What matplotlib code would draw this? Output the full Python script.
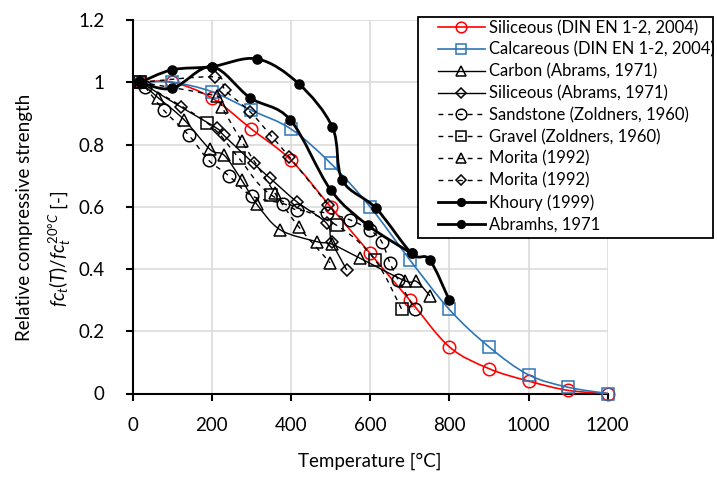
import numpy as np
import matplotlib
matplotlib.use("Agg")
import matplotlib.pyplot as plt
from matplotlib.path import Path
from matplotlib.patches import PathPatch, Rectangle
from matplotlib.lines import Line2D

plt.rcParams['font.family'] = ['Lato', 'DejaVu Sans']
plt.rcParams['mathtext.fontset'] = 'custom'
plt.rcParams['mathtext.rm'] = 'Lato'
plt.rcParams['mathtext.it'] = 'Lato:italic'

# --- data ---
temp_din = [20, 100, 200, 300, 400, 500, 600, 700, 800, 900, 1000, 1100, 1200]
siliceous_din = [1.0, 1.0, 0.95, 0.85, 0.75, 0.60, 0.45, 0.30, 0.15, 0.08, 0.04, 0.01, 0.0]
calcareous_din = [1.0, 1.0, 0.97, 0.91, 0.85, 0.74, 0.60, 0.43, 0.27, 0.15, 0.06, 0.02, 0.0]

temp_carbon = [20, 65, 130, 196, 232, 276, 314, 373, 465, 503, 574, 688, 717, 751]
carbon_abrams = [1.0, 0.95, 0.88, 0.784, 0.765, 0.685, 0.608, 0.526, 0.488, 0.48, 0.435, 0.362, 0.36, 0.314]

temp_sil_abrams = [20, 123, 213, 230, 306, 348, 415, 490, 503, 541]
siliceous_abrams = [1.0, 0.92, 0.852, 0.83, 0.739, 0.691, 0.616, 0.547, 0.488, 0.397]

temp_sandstone = [32, 79, 142, 192, 243, 301, 381, 415, 490, 549, 599, 629, 650, 671, 713]
sandstone_zoldners = [0.985, 0.91, 0.83, 0.75, 0.70, 0.635, 0.61, 0.59, 0.58, 0.558, 0.526, 0.488, 0.42, 0.365, 0.27]

temp_gravel = [20, 188, 268, 350, 516, 612, 680]
gravel_zoldners = [1.0, 0.87, 0.757, 0.638, 0.54, 0.43, 0.27]

temp_morita_tri = [20, 213, 226, 276, 360, 420, 499]
morita_tri = [1.0, 0.955, 0.92, 0.81, 0.643, 0.535, 0.42]

temp_morita_dia = [20, 209, 234, 297, 352, 396, 494]
morita_dia = [1.0, 1.017, 0.974, 0.905, 0.825, 0.76, 0.606]

temp_khoury = [20, 100, 200, 315, 420, 505, 530, 615, 705, 750, 800]
khoury = [1.0, 1.04, 1.05, 1.075, 0.995, 0.855, 0.685, 0.595, 0.45, 0.43, 0.30]

temp_abramhs = [20, 100, 200, 297, 398, 500, 595, 705]
abramhs = [1.0, 0.98, 1.05, 0.95, 0.88, 0.655, 0.54, 0.45]

BLUE = '#2E75B6'
DASH = (0, (3.5, 3.5))
FS = 13.5


def smooth_path(x, y):
    """Excel-like smoothed line (Catmull-Rom as cubic Bezier)."""
    pts = np.column_stack([x, y]).astype(float)
    n = len(pts)
    verts = [pts[0]]
    codes = [Path.MOVETO]
    for i in range(n - 1):
        p0 = pts[i - 1] if i > 0 else pts[i]
        p1, p2 = pts[i], pts[i + 1]
        p3 = pts[i + 2] if i + 2 < n else pts[i + 1]
        verts += [p1 + (p2 - p0) / 6, p2 - (p3 - p1) / 6, p2]
        codes += [Path.CURVE4] * 3
    return Path(verts, codes)


series = [
    # x, y, label, color, linestyle, lw, marker, msize, filled
    (temp_din, siliceous_din, 'Siliceous (DIN EN 1-2, 2004)', 'red', '-', 1.2, 'o', 9, False),
    (temp_din, calcareous_din, 'Calcareous (DIN EN 1-2, 2004)', BLUE, '-', 1.2, 's', 9, False),
    (temp_carbon, carbon_abrams, 'Carbon (Abrams, 1971)', 'black', '-', 1.0, '^', 8.5, False),
    (temp_sil_abrams, siliceous_abrams, 'Siliceous (Abrams, 1971)', 'black', '-', 1.0, 'D', 6.5, False),
    (temp_sandstone, sandstone_zoldners, 'Sandstone (Zoldners, 1960)', 'black', DASH, 1.0, 'o', 9, False),
    (temp_gravel, gravel_zoldners, 'Gravel (Zoldners, 1960)', 'black', DASH, 1.0, 's', 9, False),
    (temp_morita_tri, morita_tri, 'Morita (1992)', 'black', DASH, 1.0, '^', 8.5, False),
    (temp_morita_dia, morita_dia, 'Morita (1992)', 'black', DASH, 1.0, 'D', 6.5, False),
    (temp_khoury, khoury, 'Khoury (1999)', 'black', '-', 2.0, 'o', 6.5, True),
    (temp_abramhs, abramhs, 'Abramhs, 1971', 'black', '-', 2.0, 'o', 6.5, True),
]

fig = plt.figure(figsize=(7.17, 4.78), dpi=100)
ax = fig.add_axes([132.5 / 717, 1 - 393.5 / 478, (607.7 - 132.5) / 717, (393.5 - 20) / 478])

handles = []
for k, (x, y, label, color, ls, lw, marker, ms, filled) in enumerate(series):
    z = 3 + k
    ax.add_patch(PathPatch(smooth_path(x, y), fill=False, edgecolor=color,
                           linewidth=lw, linestyle=ls, zorder=z))
    fc = color if filled else 'none'
    ax.plot(x, y, linestyle='none', marker=marker, markersize=ms,
            markerfacecolor=fc, markeredgecolor=color, markeredgewidth=1.1,
            zorder=z, clip_on=False)
    handles.append(Line2D([], [], color=color, linestyle=ls, linewidth=lw,
                          marker=marker, markersize=ms * 0.85,
                          markerfacecolor=fc, markeredgecolor=color,
                          markeredgewidth=1.1, label=label))

ax.set_xlim(0, 1200)
ax.set_ylim(0, 1.2)
ax.set_xticks(np.arange(0, 1201, 200))
ax.set_yticks(np.arange(0, 1.21, 0.2))
ax.set_yticklabels(['0', '0.2', '0.4', '0.6', '0.8', '1', '1.2'])
ax.grid(True, color='#d9d9d9', linewidth=1.1)
ax.set_axisbelow(True)
for s in ['top', 'right']:
    ax.spines[s].set_visible(False)
for s in ['left', 'bottom']:
    ax.spines[s].set_linewidth(1.5)
    ax.spines[s].set_zorder(2)
ax.tick_params(direction='out', length=5, width=1.5, labelsize=FS, pad=12)
ax.tick_params(axis='y', pad=15)

ax.set_xlabel('Temperature [°C]', fontsize=FS, labelpad=13)
fig.text(25 / 717, 1 - 217 / 478, 'Relative compressive strength', rotation=90,
         ha='center', va='center', fontsize=FS)
fig.text(60 / 717, 1 - 249 / 478, r'$fc_t(T)/fc_t^{\mathit{20°C}}$ [-]', rotation=90,
         ha='center', va='center', fontsize=FS)

# legend box
fig.patches.append(Rectangle((418 / 717, 1 - 238 / 478), (713 - 418) / 717, (238 - 17) / 478,
                             transform=fig.transFigure, facecolor='white',
                             edgecolor='black', linewidth=1.3, zorder=20))
leg = fig.legend(handles=handles, loc='upper left', bbox_to_anchor=(438 / 717, 1 - 20 / 478),
                 frameon=False, fontsize=12, borderpad=0, borderaxespad=0,
                 labelspacing=0.34, handlelength=2.8, handletextpad=0.27)
leg.set_zorder(21)

fig.savefig('out.png', dpi=100)
